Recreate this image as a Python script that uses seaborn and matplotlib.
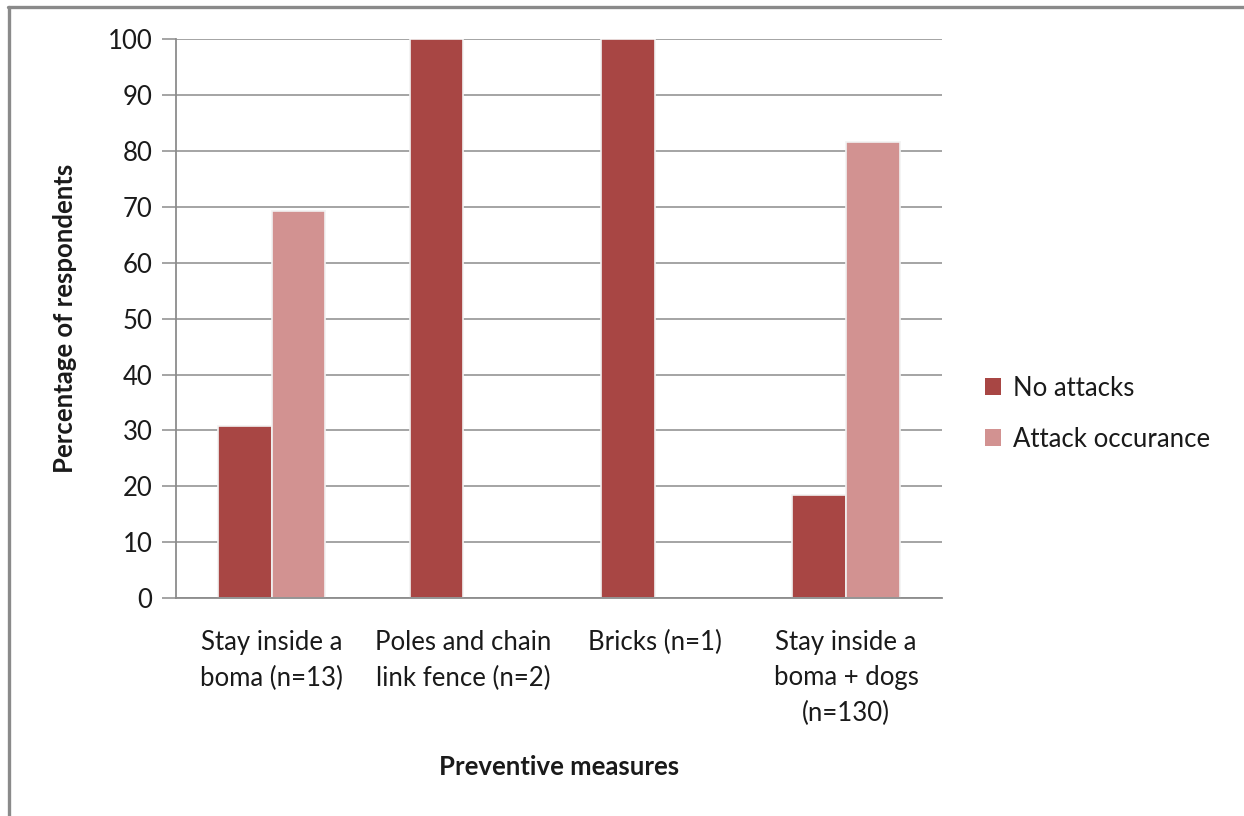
import matplotlib
matplotlib.use("Agg")
import matplotlib.pyplot as plt
from matplotlib.lines import Line2D
from matplotlib.patches import Patch
import seaborn as sns
import pandas as pd

categories = [
    "Stay inside a\nboma (n=13)",
    "Poles and chain\nlink fence (n=2)",
    "Bricks (n=1)",
    "Stay inside a\nboma + dogs\n(n=130)",
]
series_names = ["No attacks", "Attack occurance"]
no_attacks = [30.77, 100.0, 100.0, 18.46]
attack_occurance = [69.23, 0.0, 0.0, 81.54]
y_ticks = [0, 10, 20, 30, 40, 50, 60, 70, 80, 90, 100]

colors = ["#A84644", "#D29291"]
grid_color = "#8C8C8C"
text_color = "#1A1A1A"
fs = 18.5

sns.set_theme(style="white")
plt.rcParams["font.family"] = ["Lato", "DejaVu Sans"]

rows = []
for cat, a, b in zip(categories, no_attacks, attack_occurance):
    rows.append({"measure": cat, "group": series_names[0], "pct": a})
    rows.append({"measure": cat, "group": series_names[1], "pct": b})
df = pd.DataFrame(rows)

fig = plt.figure(figsize=(12.44, 8.16), dpi=100)
ax = fig.add_axes([0.1415, 0.267, 0.6155, 0.685])

sns.barplot(
    data=df, x="measure", y="pct", hue="group", order=categories,
    hue_order=series_names, palette=colors, width=0.56, gap=0.0,
    edgecolor="#F2F2F2", linewidth=1.2, saturation=1.0, legend=False,
    zorder=3, ax=ax,
)
# hide empty bars so they don't paint over the baseline
for p in ax.patches:
    if p.get_height() == 0:
        p.set_visible(False)

ax.set_ylim(0, 100)
ax.set_xlim(-0.5, len(categories) - 0.5)
ax.set_yticks(y_ticks)
ax.yaxis.grid(True, color=grid_color, linewidth=1.1, zorder=0)
ax.set_axisbelow(True)
ax.tick_params(axis="y", which="major", direction="out", length=10, width=1.1,
               color=grid_color, pad=7, labelsize=fs, labelcolor=text_color, left=True)
ax.tick_params(axis="x", length=0, pad=23, labelsize=fs, labelcolor=text_color)
for lbl in ax.get_xticklabels():
    lbl.set_linespacing(1.52)
    lbl.set_verticalalignment("top")

for side in ["top", "right"]:
    ax.spines[side].set_visible(False)
for side in ["left", "bottom"]:
    ax.spines[side].set_color(grid_color)
    ax.spines[side].set_linewidth(1.3)
    ax.spines[side].set_zorder(4)

ax.set_xlabel("Preventive measures", fontsize=fs, fontweight="bold",
              color=text_color, labelpad=21)
ax.set_ylabel("Percentage of respondents", fontsize=fs, fontweight="bold",
              color=text_color, labelpad=22)

handles = [Patch(facecolor=c, edgecolor="none") for c in colors]
fig.legend(handles, series_names, loc="center left", bbox_to_anchor=(0.773, 0.493),
           frameon=False, fontsize=fs, handlelength=0.65, handleheight=0.65,
           handletextpad=0.45, labelspacing=1.0, labelcolor=text_color)

# outer chart-area frame (top and left edges)
fig.add_artist(Line2D([0.0075, 0.0075], [0.0, 0.9915], transform=fig.transFigure,
                      color="#8A8A8A", linewidth=2.4))
fig.add_artist(Line2D([0.0065, 1.0], [0.9915, 0.9915], transform=fig.transFigure,
                      color="#8A8A8A", linewidth=2.4))

fig.savefig("out.png", dpi=100, facecolor="white")
